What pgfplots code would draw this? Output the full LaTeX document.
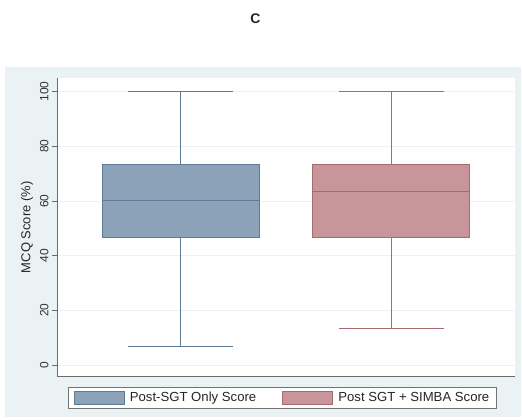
\documentclass[border=0pt]{standalone}
\usepackage{pgfplots}
\pgfplotsset{compat=1.18}
\usepackage{fontspec}
\setmainfont{Liberation Sans}
\definecolor{bgcol}{HTML}{EAF2F3}
\definecolor{bfill}{HTML}{8BA2B9}
\definecolor{bedge}{HTML}{5F7A96}
\definecolor{rfill}{HTML}{C8959A}
\definecolor{redge}{HTML}{A8696F}
\definecolor{gridc}{HTML}{EAF2F3}
\definecolor{axc}{HTML}{6B6B6B}
\begin{document}
\begin{tikzpicture}
\path[use as bounding box] (0bp,0bp) rectangle (522bp,420bp);
\fill[bgcol] (5bp,3bp) rectangle (521bp,353bp);
\node[font=\fontsize{14}{16}\selectfont\bfseries, text=black!85] at (255.3bp,401.7bp) {C};
\begin{axis}[
 at={(57bp,43.3bp)}, anchor=south west, scale only axis,
 width=458bp, height=298.7bp,
 xmin=0.41, xmax=2.59, ymin=-4.28, ymax=105,
 axis background/.style={fill=white},
 axis x line*=bottom, axis y line*=left,
 axis line style={-, axc, line width=0.9bp},
 xtick=\empty,
 ytick={0,20,...,100},
 ymajorgrids, grid style={gridc, line width=0.8bp},
 tick align=outside, major tick length=5bp,
 tick style={axc, line width=0.8bp},
 yticklabel style={rotate=90, anchor=south, font=\fontsize{12}{14}\selectfont, text=black!80},
 /pgf/number format/assume math mode=true,
 ylabel={MCQ Score (\%)},
 ylabel style={font=\fontsize{13}{15}\selectfont, text=black!85},
 legend style={at={(axis description cs:0.0245,-0.0335)}, anchor=north west,
   draw=black!55, line width=0.9bp, fill=white,
   font=\fontsize{13.2}{15}\selectfont, text=black!85,
   /tikz/every even column/.append style={column sep=24.2bp},
   inner xsep=5.3bp, inner ysep=3.2bp},
 legend columns=2,
 legend cell align=left,
 legend image code/.code={\draw[#1, line width=0.8bp] (0bp,-6.3bp) rectangle (50bp,6.3bp); \path (53bp,0bp);},
]
% Box 1: Post-SGT Only Score
\addplot[draw=bedge, fill=bfill, line width=1bp] coordinates {(0.625,46.67) (1.375,46.67) (1.375,73.33) (0.625,73.33)} -- cycle;
\addlegendentry{Post-SGT Only Score}
\addplot[forget plot, draw=bedge, line width=1bp] coordinates {(0.625,60) (1.375,60)};
\addplot[forget plot, draw=bedge, line width=1bp] coordinates {(1,73.33) (1,100)};
\addplot[forget plot, draw=bedge, line width=1bp] coordinates {(0.75,100) (1.25,100)};
\addplot[forget plot, draw=bedge, line width=1bp] coordinates {(1,46.67) (1,6.67)};
\addplot[forget plot, draw=bedge, line width=1bp] coordinates {(0.75,6.67) (1.25,6.67)};
% Box 2: Post SGT + SIMBA Score
\addplot[draw=redge, fill=rfill, line width=1bp] coordinates {(1.625,46.67) (2.375,46.67) (2.375,73.33) (1.625,73.33)} -- cycle;
\addlegendentry{Post SGT + SIMBA Score\hspace{4bp}}
\addplot[forget plot, draw=redge, line width=1bp] coordinates {(1.625,63.33) (2.375,63.33)};
\addplot[forget plot, draw=redge, line width=1bp] coordinates {(2,73.33) (2,100)};
\addplot[forget plot, draw=redge, line width=1bp] coordinates {(1.75,100) (2.25,100)};
\addplot[forget plot, draw=redge, line width=1bp] coordinates {(2,46.67) (2,13.33)};
\addplot[forget plot, draw=redge, line width=1bp] coordinates {(1.75,13.33) (2.25,13.33)};
\end{axis}
\end{tikzpicture}
\end{document}
